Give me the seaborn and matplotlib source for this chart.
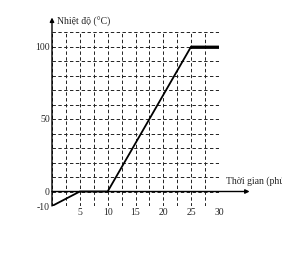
import matplotlib
matplotlib.use("Agg")
import matplotlib.pyplot as plt
from matplotlib.ticker import MultipleLocator
import pandas as pd
import seaborn as sns

# thoi gian (phut) va nhiet do (do C)
time_min = [0, 5, 10, 25, 30]
temp_c = [-10, 0, 0, 100, 100]
x_ticks = [5, 10, 15, 20, 25, 30]
y_ticks = [-10, 0, 50, 100]

df = pd.DataFrame({"t": time_min, "T": temp_c})

sns.set_style("white")
plt.rcParams["font.family"] = ["Liberation Serif", "DejaVu Serif"]
plt.rcParams["axes.unicode_minus"] = False

fig = plt.figure(figsize=(2.82, 2.58), dpi=100)
ax = fig.add_axes([52 / 282, 1 - 206 / 258, 167 / 282, 174 / 258])

sns.lineplot(data=df, x="t", y="T", color="black", linewidth=1.3, ax=ax, zorder=5)
# doan nuoc soi dam hon
sns.lineplot(x=time_min[3:], y=temp_c[3:], color="black", linewidth=2.0, ax=ax, zorder=6)

ax.set_xlim(0, 30)
ax.set_ylim(-10, 110)
ax.xaxis.set_minor_locator(MultipleLocator(2.5))
ax.yaxis.set_minor_locator(MultipleLocator(10))
ax.set_xticks(x_ticks)
ax.set_yticks(y_ticks)
ax.grid(True, which="both", color="#222222", linestyle=(0, (3.5, 2.5)), linewidth=0.7)
ax.tick_params(which="both", length=0, labelsize=7, pad=1.5)
for s in ax.spines.values():
    s.set_visible(False)
ax.set_xlabel("")
ax.set_ylabel("")

# truc toa do co mui ten
ax.annotate("", xy=(0, 120), xytext=(0, -10), xycoords="data",
            arrowprops=dict(arrowstyle="-|>", color="black", lw=1.0,
                            mutation_scale=6, shrinkA=0, shrinkB=0),
            annotation_clip=False)
ax.annotate("", xy=(35.5, 0), xytext=(0, 0), xycoords="data",
            arrowprops=dict(arrowstyle="-|>", color="black", lw=1.0,
                            mutation_scale=6, shrinkA=0, shrinkB=0),
            annotation_clip=False)

fig.text(57 / 282, 1 - 22 / 258, "Nhiệt độ (°C)", fontsize=7, va="center", ha="left")
fig.text(226 / 282, 1 - 181 / 258, "Thời gian (phút)", fontsize=7, va="center", ha="left")

fig.savefig("out.png", dpi=100)
